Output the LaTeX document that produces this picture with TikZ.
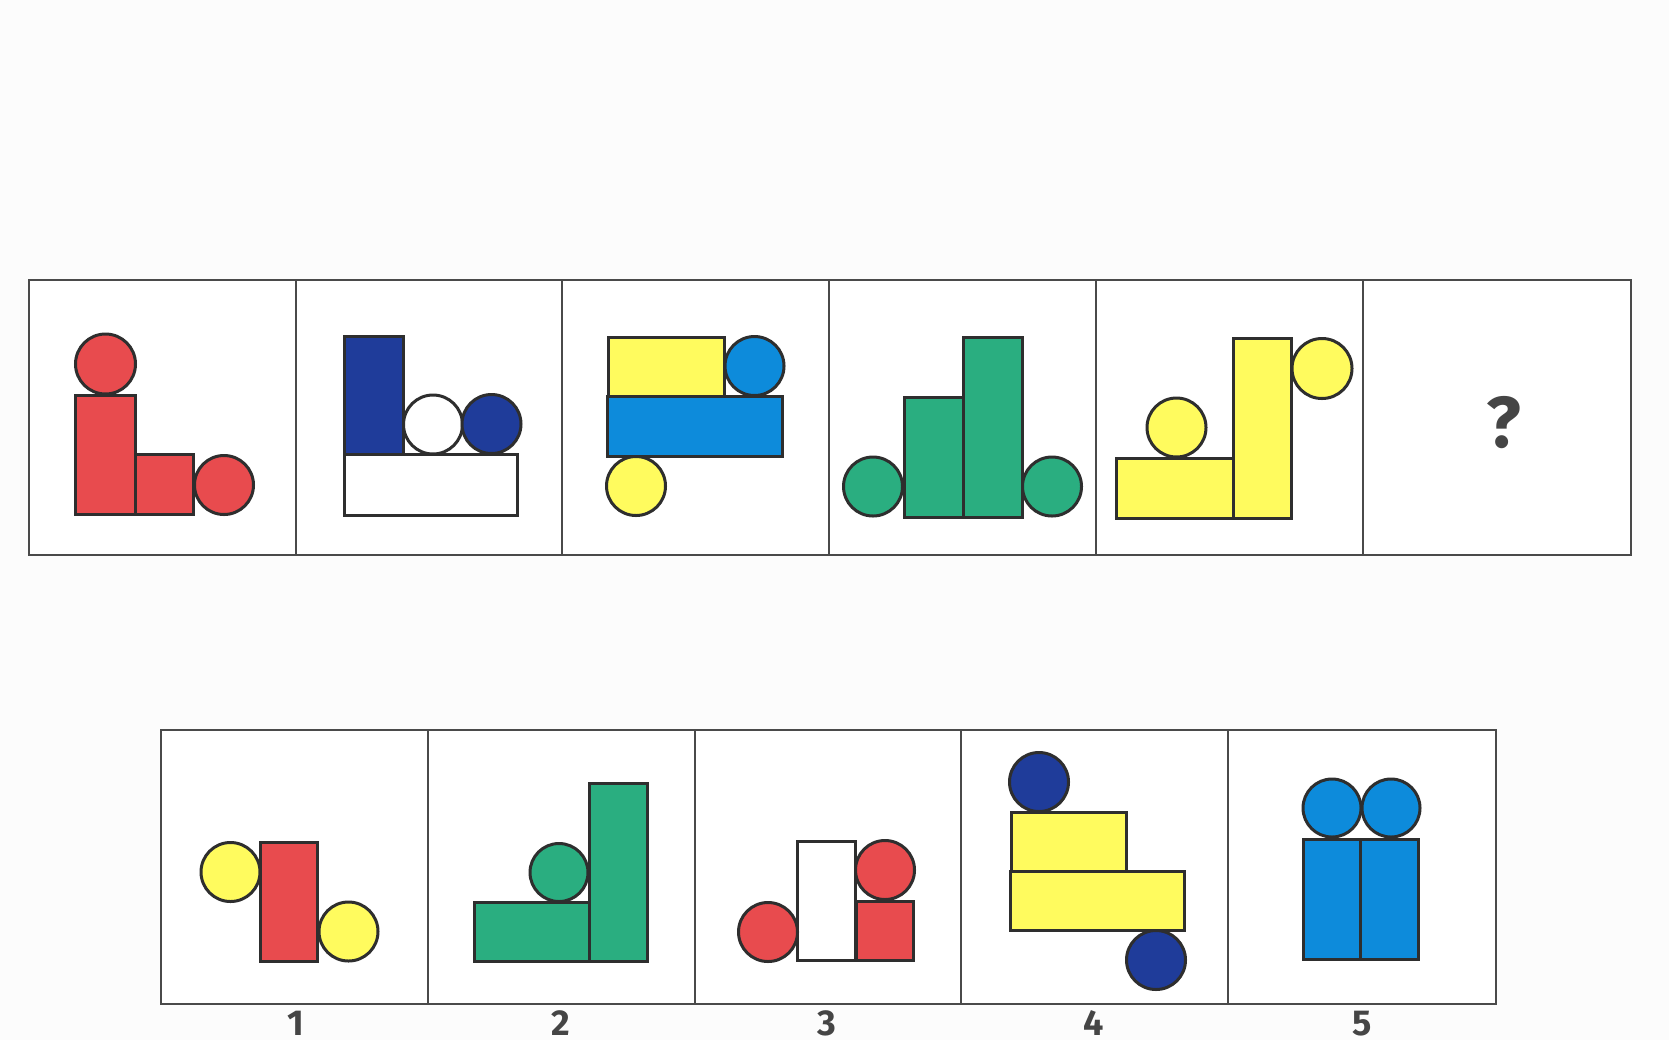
\documentclass[tikz,border=0pt]{standalone}
\usepackage{fontspec}
\setmainfont{Fira Sans}
\usetikzlibrary{fit}
\definecolor{bg}{HTML}{FCFCFC}
\definecolor{framec}{HTML}{4A4A4A}
\definecolor{outl}{HTML}{2E2E2E}
\definecolor{redf}{HTML}{E84B4E}
\definecolor{navy}{HTML}{1F3C9A}
\definecolor{skyb}{HTML}{0D8BDB}
\definecolor{yell}{HTML}{FFFB5E}
\definecolor{grn}{HTML}{2AAE80}
\definecolor{labc}{HTML}{454545}
\tikzset{
  shp/.style={draw=outl, line width=1.5pt, inner sep=0pt, outer sep=0pt},
  cellbox/.style={draw=framec, line width=1.4pt, fill=white, inner sep=0pt, outer sep=0pt},
  lab/.style={font=\bfseries\fontsize{18}{20}\selectfont, text=labc, inner sep=0pt, anchor=base},
}
% \prect{name}{x1}{y1}{x2}{y2}{fill}
\newcommand{\prect}[6]{\node[shp, fill=#6, fit={(#2,#3)(#4,#5)}] (#1) {};}
% \pcirc{name}{cx}{cy}{diameter in px}{fill}  (1 px = 0.5pt)
\newcommand{\pcirc}[5]{\node[shp, circle, fill=#5, minimum size=#4*0.5pt] (#1) at (#2,#3) {};}
\begin{document}
\begin{tikzpicture}[x=0.5pt, y=-0.5pt]
\useasboundingbox[fill=bg] (0,0) rectangle (1669,1040);
% top row cells
\foreach \i/\a/\b in {1/29/296, 2/296/562, 3/562/829, 4/829/1096, 5/1096/1363, 6/1363/1631}{
  \node[cellbox, fit={(\a,280)(\b,555)}] (top\i) {};
}
% bottom row cells
\foreach \i/\a/\b in {1/161/428, 2/428/695, 3/695/961, 4/961/1228, 5/1228/1496}{
  \node[cellbox, fit={(\a,730)(\b,1004)}] (bot\i) {};
}
% ---- top cell 1 (red)
\prect{aTall}{75.5}{395}{135.5}{514}{redf}
\prect{aSmall}{135.5}{454}{193.5}{514}{redf}
\pcirc{aC1}{105.5}{364}{60}{redf}
\pcirc{aC2}{224}{485}{59}{redf}
% ---- top cell 2
\prect{bTall}{344.5}{336}{403}{454}{navy}
\prect{bWide}{344.5}{454}{517.5}{515}{white}
\pcirc{bC1}{433}{424.5}{59}{white}
\pcirc{bC2}{491.5}{424}{59}{navy}
% ---- top cell 3
\prect{cTop}{608}{337}{724}{396.5}{yell}
\prect{cLong}{607.5}{396.5}{782}{456}{skyb}
\pcirc{cC1}{754.5}{366}{59}{skyb}
\pcirc{cC2}{636}{486}{59}{yell}
% ---- top cell 4
\prect{dMid}{904}{397}{963}{517}{grn}
\prect{dTall}{963}{337}{1022}{517}{grn}
\pcirc{dC1}{873}{486.5}{59}{grn}
\pcirc{dC2}{1052}{486.5}{59}{grn}
% ---- top cell 5
\prect{eWide}{1116.5}{458}{1233.5}{518}{yell}
\prect{eTall}{1233.5}{338}{1291.5}{518}{yell}
\pcirc{eC1}{1176.5}{427.5}{59}{yell}
\pcirc{eC2}{1322}{368.5}{60}{yell}
% ---- top cell 6
\node[font=\bfseries\fontsize{36}{40}\selectfont, text=labc, inner sep=0pt, anchor=base] (qmark) at (1504,447) {?};
% ---- bottom cell 1
\prect{fRect}{260}{842}{317.5}{961}{redf}
\pcirc{fC1}{230.5}{872}{59}{yell}
\pcirc{fC2}{348.5}{931.5}{59}{yell}
% ---- bottom cell 2
\prect{gWide}{474.5}{902}{589.5}{961.5}{grn}
\prect{gTall}{589.5}{783}{647.5}{961.5}{grn}
\pcirc{gC1}{559}{872.5}{58}{grn}
% ---- bottom cell 3
\prect{hTall}{797.5}{841}{855.5}{960.5}{white}
\prect{hSq}{856.5}{901}{913}{960.5}{redf}
\pcirc{hC1}{768}{932}{59}{redf}
\pcirc{hC2}{885}{870}{59}{redf}
% ---- bottom cell 4
\prect{iTop}{1011}{812}{1126}{871}{yell}
\prect{iLong}{1010.5}{871}{1184.5}{930}{yell}
\pcirc{iC1}{1039}{782}{59}{navy}
\pcirc{iC2}{1156}{960}{59}{navy}
% ---- bottom cell 5
\prect{jR1}{1303}{839}{1360.5}{959.5}{skyb}
\prect{jR2}{1360.5}{839}{1418.5}{959.5}{skyb}
\pcirc{jC1}{1332}{808}{58}{skyb}
\pcirc{jC2}{1391}{808}{58}{skyb}
% labels
\node[lab] (l1) at (296,1035) {1};
\node[lab] (l2) at (561,1035) {2};
\node[lab] (l3) at (827,1035) {3};
\node[lab] (l4) at (1094,1035) {4};
\node[lab] (l5) at (1362,1035) {5};
\end{tikzpicture}
\end{document}
